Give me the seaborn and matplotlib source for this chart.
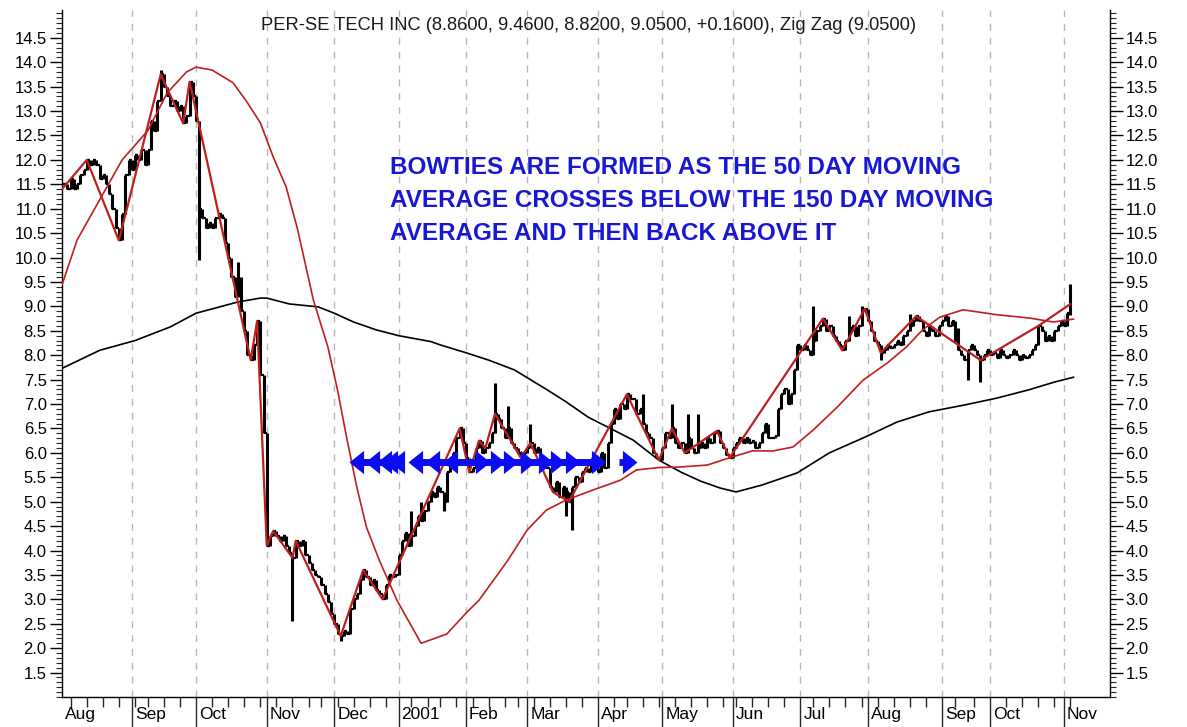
import numpy as np
import pandas as pd
import matplotlib
matplotlib.use("Agg")
import matplotlib.pyplot as plt
import matplotlib.transforms as mtransforms
from matplotlib.ticker import FixedLocator, MultipleLocator, FormatStrFormatter
import seaborn as sns

# NYSE holidays + 9/11 closure inside the window
closed_days = ['2000-09-04', '2000-11-23', '2000-12-25', '2001-01-01', '2001-01-15',
               '2001-02-19', '2001-04-13', '2001-05-28', '2001-07-04', '2001-09-03',
               '2001-09-11', '2001-09-12', '2001-09-13', '2001-09-14']

# daily closes, one list per month
aug00 = [11.3, 11.5, 11.5, 11.4, 11.6, 11.4, 11.5, 11.7, 11.8, 12.0, 11.9, 12.0, 11.9, 11.6,
         11.7, 11.5, 11.3, 11.0, 10.6, 10.35, 10.9, 11.7, 12.0]
sep00 = [11.8, 12.1, 12.0, 12.2, 11.9, 12.2, 12.8, 12.6, 13.2, 13.75, 13.5, 13.3, 13.1, 13.2,
         13.0, 13.1, 12.75, 12.9, 13.6, 13.3]
oct00 = [12.8, 11.0, 10.8, 10.6, 10.7, 10.6, 10.8, 10.9, 10.8, 10.3, 10.0, 9.6, 9.2, 9.3,
         8.9, 8.5, 8.0, 7.9, 8.2, 8.7, 7.6, 6.4]
nov00 = [4.1, 4.3, 4.4, 4.3, 4.2, 4.3, 4.1, 3.95, 3.85, 4.2, 4.1, 4.2, 3.9, 3.75, 3.6, 3.5,
         3.45, 3.3, 3.1, 2.95, 2.7]
dec00 = [2.5, 2.3, 2.25, 2.35, 2.3, 2.8, 3.0, 3.1, 3.4, 3.6, 3.45, 3.3, 3.4, 3.2, 3.1, 3.0,
         3.3, 3.5, 3.45, 3.5]
jan01 = [3.9, 4.2, 4.35, 4.1, 4.3, 4.5, 4.7, 4.6, 4.8, 5.0, 5.2, 5.1, 5.3, 5.2, 5.0, 5.6,
         5.9, 6.0, 6.3, 6.5, 6.2]
feb01 = [5.9, 5.6, 5.7, 6.1, 6.25, 6.0, 6.1, 6.2, 6.4, 6.8, 6.7, 6.5, 6.3, 6.5, 6.2, 6.1,
         6.0, 5.9, 6.0]
mar01 = [6.1, 6.2, 6.0, 6.1, 5.9, 5.8, 5.7, 5.3, 5.2, 5.4, 5.1, 5.3, 5.2, 5.0, 5.3, 5.5,
         5.4, 5.6, 5.7, 5.6, 5.8, 5.7]
apr01 = [5.6, 6.0, 5.7, 6.2, 6.6, 6.9, 6.7, 7.0, 6.9, 7.2, 7.1, 7.1, 6.8, 6.9, 6.6, 6.4,
         6.3, 6.0, 5.9, 5.85]
may01 = [6.1, 6.4, 6.3, 6.5, 6.2, 6.1, 6.2, 6.0, 6.3, 6.1, 6.0, 6.1, 6.2, 6.1, 6.3, 6.2,
         6.4, 6.45, 6.2, 6.1, 5.95, 5.9]
jun01 = [6.1, 6.2, 6.3, 6.2, 6.3, 6.2, 6.25, 6.1, 6.2, 6.4, 6.6, 6.3, 6.3, 6.35, 6.9, 7.2,
         7.3, 7.0, 7.2, 7.7, 8.2]
jul01 = [8.1, 8.2, 8.1, 8.0, 8.3, 8.5, 8.6, 8.75, 8.5, 8.6, 8.4, 8.3, 8.2, 8.1, 8.3, 8.5,
         8.6, 8.4, 8.6, 8.9, 8.95]
aug01 = [8.7, 8.5, 8.3, 8.2, 8.05, 8.1, 8.2, 8.15, 8.2, 8.3, 8.2, 8.4, 8.5, 8.6, 8.7, 8.8,
         8.7, 8.5, 8.4, 8.6, 8.5, 8.4, 8.6]
sep01 = [8.7, 8.8, 8.6, 8.7, 8.3, 8.1, 8.0, 7.9, 8.1, 8.2, 8.1, 8.0, 7.9, 8.0, 8.1]
oct01 = [8.0, 8.05, 7.95, 8.1, 8.0, 7.95, 8.0, 8.1, 8.0, 7.9, 8.0, 7.95, 8.0, 8.1, 8.2, 8.6,
         8.5, 8.3, 8.4, 8.3, 8.5, 8.6, 8.7]
nov01 = [8.6, 8.86, 9.05]

# long wicks (trading-day index, price)
spike_hi_days = [32, 56, 57, 110, 113, 136, 140, 147, 182, 191, 196, 199, 235, 246, 250,
                 265, 280, 315]
spike_hi_vals = [13.85, 9.9, 9.6, 4.8, 5.0, 7.43, 6.95, 6.6, 7.2, 7.0, 6.8, 6.8, 9.0, 8.8,
                 9.0, 8.85, 8.55, 9.46]
spike_lo_days = [44, 73, 88, 120, 158, 160, 256, 283, 287, 315]
spike_lo_vals = [9.95, 2.55, 2.15, 4.8, 4.7, 4.42, 7.9, 7.5, 7.45, 8.82]

# zig zag pivots (trading-day index)
zz_days = [0, 9, 19, 32, 39, 41, 60, 62, 65, 67, 73, 74, 88, 95, 101, 125, 128, 131, 133,
           136, 144, 147, 154, 159, 177, 187, 191, 195, 205, 209, 238, 244, 251, 256, 267,
           287, 305, 315]

# 150 day moving average (black)
ma150_days = [1.3, 13, 24, 35, 43, 56, 63, 65, 72, 81, 86, 92, 99, 106, 116, 119, 127, 134,
              142, 147, 152, 158, 165, 171, 179, 187, 194, 200, 206, 211, 219, 230, 240,
              251, 261, 271, 282, 292, 302, 310, 316]
ma150_vals = [7.73, 8.1, 8.3, 8.58, 8.86, 9.09, 9.17, 9.17, 9.05, 8.99, 8.86, 8.68, 8.52,
              8.4, 8.28, 8.21, 8.05, 7.9, 7.7, 7.5, 7.3, 7.05, 6.73, 6.53, 6.26, 5.85,
              5.6, 5.42, 5.28, 5.2, 5.34, 5.59, 6.0, 6.32, 6.63, 6.84, 6.98, 7.12, 7.29,
              7.45, 7.55]

# 50 day moving average (red)
ma50_days = [1.3, 6, 13, 20, 28, 34, 40, 43, 48, 54.5, 59, 63, 67, 71, 74.5, 79.5, 84, 87,
             90, 93, 96, 100, 105.5, 109.5, 113, 121, 127, 131, 140, 146, 152, 158, 166.5,
             175, 180, 187, 193.5, 202, 209, 216, 222.5, 228.7, 235, 242.5, 250.5, 258,
             264, 269, 274.4, 281.6, 292, 302.4, 309.6, 316]
ma50_vals = [9.44, 10.36, 11.18, 12.0, 12.6, 13.37, 13.8, 13.9, 13.84, 13.58, 13.17, 12.76,
             12.06, 11.45, 10.6, 9.13, 8.17, 7.29, 6.26, 5.3, 4.48, 3.8, 2.98, 2.51, 2.1,
             2.29, 2.72, 2.98, 3.8, 4.42, 4.83, 5.03, 5.24, 5.44, 5.65, 5.7, 5.71, 5.75,
             5.9, 6.04, 6.04, 6.12, 6.47, 6.94, 7.49, 7.84, 8.17, 8.52, 8.78, 8.93, 8.83,
             8.76, 8.68, 8.74]

# bowtie arrows
arrow_y = 5.82
shaft_start = [90.6, 108.9, 173.3]
shaft_end = [108.6, 170.5, 180.1]
left_heads = [90.6, 95.6, 99.3, 101.1, 103.3, 108.9, 114.2, 119.8]
right_heads = [134.4, 139.1, 143.1, 148.4, 154.0, 157.8, 162.4, 170.5, 180.1]

month_labels = ['Aug', 'Sep', 'Oct', 'Nov', 'Dec', '2001', 'Feb', 'Mar', 'Apr', 'May',
                'Jun', 'Jul', 'Aug', 'Sep', 'Oct', 'Nov']

title = "PER-SE TECH INC (8.8600, 9.4600, 8.8200, 9.0500, +0.1600), Zig Zag (9.0500)"
note = ("BOWTIES ARE FORMED AS THE 50 DAY MOVING\n"
        "AVERAGE CROSSES BELOW THE 150 DAY MOVING\n"
        "AVERAGE AND THEN BACK ABOVE IT")

sns.set_style("white")
plt.rcParams['font.family'] = ['Liberation Sans', 'DejaVu Sans']

dates = pd.bdate_range('2000-08-01', '2001-11-05')
dates = dates[~dates.isin(pd.to_datetime(closed_days))]
closes = np.array(aug00 + sep00 + oct00 + nov00 + dec00 + jan01 + feb01 + mar01 + apr01
                  + may01 + jun01 + jul01 + aug01 + sep01 + oct01 + nov01)
days = np.arange(len(dates))

opens = np.r_[closes[0], closes[:-1]]
highs = np.maximum(opens, closes)
lows = np.minimum(opens, closes)
highs[spike_hi_days] = np.maximum(highs[spike_hi_days], spike_hi_vals)
lows[spike_lo_days] = np.minimum(lows[spike_lo_days], spike_lo_vals)

month_start = [i for i in range(1, len(dates)) if dates[i].month != dates[i - 1].month]
week_start = [i for i in range(1, len(dates)) if dates[i].weekday() < dates[i - 1].weekday()]

red = '#bf1f1f'
blue = '#0c0cf2'

fig = plt.figure(figsize=(11.87, 7.27), dpi=100)
ax = fig.add_axes([62 / 1187, 30 / 727, 1048 / 1187, 687 / 727])
ax.set_xlim(1.3, 327.3)
ax.set_ylim(1.0, 15.07)

# month grid
ax.vlines(month_start, 1.0, 15.07, colors='#b8b8b8', linestyles=(0, (5, 5)), lw=1.0, zorder=0)

# OHLC bars
ax.vlines(days, lows, highs, colors='black', lw=2.2, zorder=2)
ax.hlines(closes, days, days + 0.55, colors='black', lw=1.6, zorder=2)
ax.hlines(opens, days - 0.55, days, colors='black', lw=1.6, zorder=2)

# indicators
sns.lineplot(x=ma150_days, y=ma150_vals, color='black', lw=1.2, sort=False,
             estimator=None, ax=ax, zorder=3)
sns.lineplot(x=ma50_days, y=ma50_vals, color=red, lw=1.2, sort=False,
             estimator=None, ax=ax, zorder=3)
sns.lineplot(x=zz_days, y=closes[zz_days], color=red, lw=1.6, sort=False,
             estimator=None, ax=ax, zorder=4)

# bowtie arrows
for s, e in zip(shaft_start, shaft_end):
    ax.plot([s + 1.2, e - 1.2], [arrow_y, arrow_y], color=blue, lw=5.0,
            solid_capstyle='butt', zorder=5)
left_mk = [(0, 0), (1, 0.8), (1, -0.8), (0, 0)]
right_mk = [(0, 0), (-1, 0.8), (-1, -0.8), (0, 0)]
ax.plot(left_heads, [arrow_y] * len(left_heads), ls='none', marker=left_mk, ms=21,
        color=blue, mec=blue, mew=0, zorder=6)
ax.plot(right_heads, [arrow_y] * len(right_heads), ls='none', marker=right_mk, ms=21,
        color=blue, mec=blue, mew=0, zorder=6)

# texts
ax.text(0.502, 0.978, title, transform=ax.transAxes, ha='center', va='center',
        fontsize=13.2, color='#1a1a1a')
ax.text(0.313, 0.723, note, transform=ax.transAxes, ha='left', va='center',
        fontsize=17.5, fontweight='bold', color='#1818d4', linespacing=1.55)

# axes styling
for side in ['left', 'right', 'bottom']:
    ax.spines[side].set_visible(True)
    ax.spines[side].set_color('black')
    ax.spines[side].set_linewidth(1.0)
ax.spines['top'].set_visible(False)

ax.yaxis.set_major_locator(FixedLocator(np.arange(1.5, 14.51, 0.5)))
ax.yaxis.set_minor_locator(MultipleLocator(0.1))
ax.yaxis.set_major_formatter(FormatStrFormatter('%.1f'))
ax.tick_params(axis='y', which='major', left=True, right=True, labelleft=True,
               labelright=True, direction='out', length=9, width=1, pad=2,
               labelsize=12, colors='black')
ax.tick_params(axis='y', which='minor', left=True, right=True, direction='out',
               length=4, width=0.8)

ax.set_xticks(month_start)
ax.set_xticklabels([])
ax.set_xticks(week_start, minor=True)
ax.tick_params(axis='x', which='major', bottom=True, direction='out', length=22, width=1)
ax.tick_params(axis='x', which='minor', bottom=True, direction='out', length=7, width=1)

lab_pos = [1.3] + month_start
offset = mtransforms.ScaledTranslation(0.03, -0.1, fig.dpi_scale_trans)
for p, lab in zip(lab_pos, month_labels):
    ax.text(p, 0, lab, transform=ax.get_xaxis_transform() + offset, ha='left', va='top',
            fontsize=12.5, color='black', clip_on=False)

ax.set_xlabel('')
ax.set_ylabel('')
ax.grid(False)

fig.savefig('out.png', dpi=100)
